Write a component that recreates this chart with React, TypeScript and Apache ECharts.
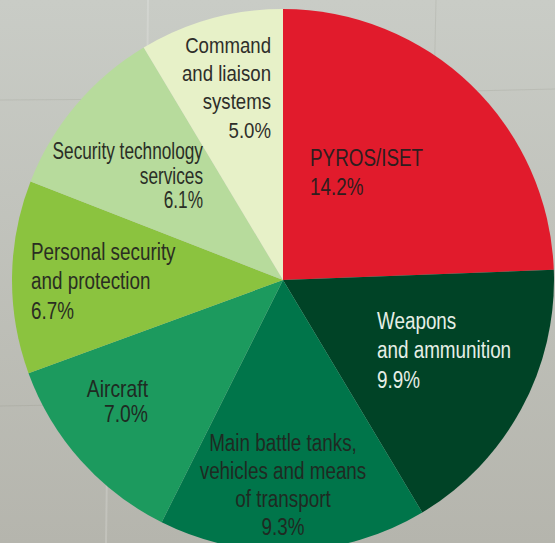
import React, { useEffect, useRef } from "react";
import * as echarts from "echarts";

const categories = [
  "PYROS/ISET",
  "Weapons\nand ammunition",
  "Main battle tanks,\nvehicles and means\nof transport",
  "Aircraft",
  "Personal security\nand protection",
  "Security technology\nservices",
  "Command\nand liaison\nsystems",
];
const values = [14.2, 9.9, 9.3, 7.0, 6.7, 6.1, 5.0];
const colors = ["#e11b2c", "#004326", "#00754a", "#1c9a5e", "#8bc33f", "#b7db9c", "#e7f1c8"];
const textColors = ["#2e1e1e", "#e6efe6", "#1f2a22", "#1f2a22", "#2a2e22", "#2a2e26", "#2e2e2a"];

// label placement: [x, y, align, lineHeight, scaleX]
const labelPlace: [number, number, string, number, number][] = [
  [310, 172, "left", 29, 0.82],
  [377, 350, "left", 29.5, 0.82],
  [283, 485, "center", 28, 0.82],
  [148, 401, "right", 25, 0.84],
  [31, 281, "left", 29.5, 0.82],
  [203, 176, "right", 24.5, 0.75],
  [271, 87, "right", 28.5, 0.81],
];

export default function App() {
  const ref = useRef<HTMLDivElement>(null);
  useEffect(() => {
    document.body.style.margin = "0";
    const chart = echarts.init(ref.current!, null, { renderer: "svg" });
    const lineStyle = { stroke: "rgba(255,255,255,0.18)", lineWidth: 2 };
    const shadeStyle = { stroke: "rgba(120,120,110,0.15)", lineWidth: 1 };
    const labels = categories.map((name, i) => {
      const lp = labelPlace[i];
      return {
        type: "text",
        x: lp[0],
        y: lp[1],
        scaleX: lp[4],
        z: 10,
        silent: true,
        style: {
          text: `${name}\n${values[i].toFixed(1)}%`,
          x: 0,
          y: 0,
          align: lp[2],
          verticalAlign: "middle",
          lineHeight: lp[3],
          fill: textColors[i],
          font: "23px 'Liberation Sans', Arial, sans-serif",
        },
      };
    });
    chart.setOption({
      animation: false,
      backgroundColor: {
        type: "linear", x: 0, y: 0, x2: 0, y2: 1,
        colorStops: [
          { offset: 0, color: "#c9ccc6" },
          { offset: 1, color: "#b5b5ad" },
        ],
      },
      graphic: [
        { type: "line", shape: { x1: 148, y1: 0, x2: 147, y2: 100 }, style: lineStyle, silent: true },
        { type: "line", shape: { x1: 0, y1: 100, x2: 160, y2: 99 }, style: shadeStyle, silent: true },
        { type: "line", shape: { x1: 436, y1: 0, x2: 434, y2: 92 }, style: shadeStyle, silent: true },
        { type: "line", shape: { x1: 470, y1: 91, x2: 555, y2: 89 }, style: shadeStyle, silent: true },
        { type: "line", shape: { x1: 108, y1: 395, x2: 106, y2: 543 }, style: lineStyle, silent: true },
        { type: "line", shape: { x1: 0, y1: 406, x2: 60, y2: 405 }, style: shadeStyle, silent: true },
        ...labels,
      ],
      series: [
        {
          type: "pie",
          center: [283, 280],
          radius: 271,
          startAngle: 90,
          clockwise: true,
          silent: true,
          itemStyle: { borderWidth: 0 },
          labelLine: { show: false },
          label: { show: false },
          data: categories.map((name, i) => ({
            name,
            value: values[i],
            itemStyle: { color: colors[i] },
          })),
        },
      ],
    });
    return () => chart.dispose();
  }, []);
  return <div ref={ref} style={{ width: 555, height: 543 }} />;
}
